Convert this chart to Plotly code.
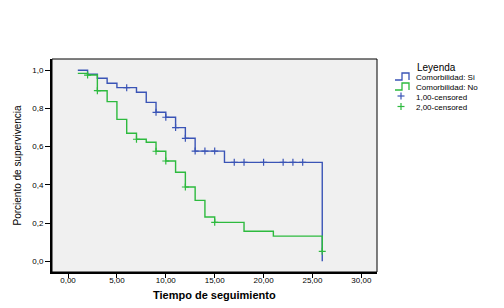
import plotly.graph_objects as go

# Kaplan-Meier steps
blue_t = [1, 2, 3, 4, 5, 7, 8, 9, 10, 11, 12, 13, 16, 26]
blue_s = [1.0, 0.979, 0.958, 0.932, 0.909, 0.885, 0.832, 0.78, 0.754, 0.70, 0.644, 0.577, 0.518, 0.0]
blue_cens_t = [6, 9, 10, 11, 12, 13, 14, 15, 17, 18, 20, 22, 23, 24]
blue_cens_s = [0.909, 0.78, 0.754, 0.70, 0.644, 0.577, 0.577, 0.577, 0.518, 0.518, 0.518, 0.518, 0.518, 0.518]

green_t = [1, 2, 3, 4, 5, 6, 7, 8, 9, 10, 11, 12, 13, 14, 15, 18, 21, 26]
green_s = [0.984, 0.975, 0.893, 0.836, 0.743, 0.670, 0.639, 0.623, 0.576, 0.525, 0.466, 0.389, 0.319, 0.232, 0.204, 0.157, 0.132, 0.052]
green_cens_t = [2, 3, 7, 9, 10, 12, 15, 26]
green_cens_s = [0.975, 0.893, 0.639, 0.576, 0.525, 0.389, 0.204, 0.052]

x_ticks = [0, 5, 10, 15, 20, 25, 30]
y_ticks = [0.0, 0.2, 0.4, 0.6, 0.8, 1.0]
legend_labels = ["Comorbilidad: Si", "Comorbilidad: No", "1,00-censored", "2,00-censored"]

BLUE = "#3A54B6"
GREEN = "#2DBA3E"
FONT = "Liberation Sans"

fig = go.Figure()
fig.add_trace(go.Scatter(x=blue_t, y=blue_s, mode="lines", line=dict(color=BLUE, width=1.4, shape="hv"),
                         showlegend=False, hoverinfo="skip"))
fig.add_trace(go.Scatter(x=green_t, y=green_s, mode="lines", line=dict(color=GREEN, width=1.4, shape="hv"),
                         showlegend=False, hoverinfo="skip"))
fig.add_trace(go.Scatter(x=blue_cens_t, y=blue_cens_s, mode="markers",
                         marker=dict(symbol="cross-thin", size=5, line=dict(color=BLUE, width=1.2)),
                         showlegend=False, hoverinfo="skip"))
fig.add_trace(go.Scatter(x=green_cens_t, y=green_cens_s, mode="markers",
                         marker=dict(symbol="cross-thin", size=5, line=dict(color=GREEN, width=1.2)),
                         showlegend=False, hoverinfo="skip"))

L, R, T, B = 52, 377, 59, 272
W, H = R - L, B - T


def px(x):
    return (x - L) / W


def py(y):
    return (B - y) / H


shapes = [dict(type="rect", xref="paper", yref="paper", x0=0, x1=1, y0=0, y1=1,
               line=dict(color="black", width=1), layer="above")]
# legend icons
for i, col in enumerate([BLUE, GREEN]):
    yb = 80 + i * 10
    yt = 73 + i * 10
    path = f"M {px(395)},{py(yb)} L {px(402)},{py(yb)} L {px(402)},{py(yt)} L {px(409)},{py(yt)} L {px(409)},{py(yb)}"
    shapes.append(dict(type="path", xref="paper", yref="paper", path=path, line=dict(color=col, width=1.3)))
for i, col in enumerate([BLUE, GREEN]):
    cy = 96 + i * 10.5
    cx = 401
    shapes.append(dict(type="line", xref="paper", yref="paper", x0=px(cx - 3.5), x1=px(cx + 3.5), y0=py(cy), y1=py(cy),
                       line=dict(color=col, width=1.2)))
    shapes.append(dict(type="line", xref="paper", yref="paper", x0=px(cx), x1=px(cx), y0=py(cy - 3.5), y1=py(cy + 3.5),
                       line=dict(color=col, width=1.2)))

annotations = [
    dict(text="Porciento de supervivencia", xref="paper", yref="paper", x=0, y=0.5, xshift=-35,
         xanchor="center", yanchor="middle", textangle=-90, showarrow=False,
         font=dict(family=FONT, size=10, color="black")),
    dict(text="<b>Tiempo de seguimiento</b>", xref="paper", yref="paper", x=0.5, y=0, yshift=-23,
         xanchor="center", yanchor="middle", showarrow=False,
         font=dict(family=FONT, size=11, color="black")),
    dict(text="Leyenda", xref="paper", yref="paper", x=px(415), y=py(67), xanchor="left", yanchor="middle",
         showarrow=False, font=dict(family=FONT, size=10, color="black")),
]
for i, lab in enumerate(legend_labels):
    annotations.append(dict(text=lab, xref="paper", yref="paper", x=px(414), y=py(77 + i * 10.2),
                            xanchor="left", yanchor="middle", showarrow=False,
                            font=dict(family=FONT, size=8, color="black")))

fig.update_layout(
    width=504, height=308,
    margin=dict(l=L, r=504 - R, t=T, b=308 - B),
    paper_bgcolor="white", plot_bgcolor="#F0F0F0",
    separators=",.",
    font=dict(family=FONT, size=8, color="black"),
    shapes=shapes, annotations=annotations,
    xaxis=dict(range=[-1.64, 31.6], tickvals=x_ticks, tickformat=".2f", showgrid=False, zeroline=False,
               showline=True, linecolor="black", linewidth=2, ticks="outside", ticklen=4, tickcolor="black",
               tickfont=dict(family=FONT, size=8), ticklabelstandoff=-5),
    yaxis=dict(range=[-0.056, 1.059], tickvals=y_ticks, tickformat=".1f", showgrid=False, zeroline=False,
               showline=True, linecolor="black", linewidth=2, ticks="outside", ticklen=5, tickcolor="black",
               tickfont=dict(family=FONT, size=8)),
)

fig.write_html("out.html")
